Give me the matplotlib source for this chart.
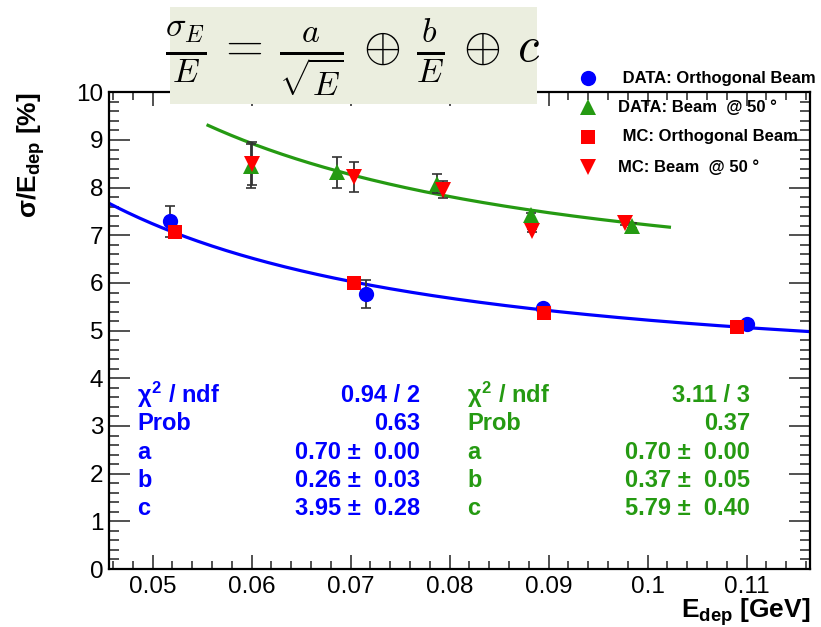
import numpy as np
import matplotlib
matplotlib.use("Agg")
import matplotlib.pyplot as plt
from matplotlib.patches import Rectangle
from matplotlib.lines import Line2D

plt.rcParams['font.family'] = ['Liberation Sans', 'DejaVu Sans']
plt.rcParams['mathtext.fontset'] = 'custom'
plt.rcParams['mathtext.rm'] = 'Liberation Sans:bold'
plt.rcParams['mathtext.it'] = 'Liberation Sans:bold'
plt.rcParams['mathtext.bf'] = 'Liberation Sans:bold'

# ---------------- data ----------------
data_orth_E = [0.0518, 0.0716, 0.0894, 0.1100]
data_orth_res = [7.29, 5.77, 5.48, 5.14]
data_orth_err = [0.33, 0.30, 0.06, 0.05]

mc_orth_E = [0.0523, 0.0703, 0.0895, 0.1090]
mc_orth_res = [7.07, 5.99, 5.37, 5.07]

data_50_E = [0.0599, 0.0686, 0.0787, 0.0882, 0.0984]
data_50_res = [8.45, 8.32, 8.08, 7.42, 7.20]
data_50_err = [0.46, 0.33, 0.20, 0.05, 0.05]

mc_50_E = [0.0600, 0.0703, 0.0793, 0.0883, 0.0977]
mc_50_res = [8.50, 8.22, 7.96, 7.10, 7.25]
mc_50_err = [0.45, 0.32, 0.18, 0.04, 0.04]

# fit parameters (a, b, c) and drawn ranges
fit_orth = (0.70, 0.26, 3.95)
fit_orth_range = (0.0456, 0.1164)
fit_50 = (0.70, 0.37, 5.79)
fit_50_range = (0.0556, 0.1022)

PM = "\u00b1"
stats_orth = [("$\\chi^{2}$ / ndf", "0.94 / 2"), ("Prob", "0.63"),
              ("a", f"0.70 {PM}  0.00"), ("b", f"0.26 {PM}  0.03"),
              ("c", f"3.95 {PM}  0.28")]
stats_50 = [("$\\chi^{2}$ / ndf", "3.11 / 3"), ("Prob", "0.37"),
            ("a", f"0.70 {PM}  0.00"), ("b", f"0.37 {PM}  0.05"),
            ("c", f"5.79 {PM}  0.40")]

legend_labels = [" DATA: Orthogonal Beam", "DATA: Beam  @ 50 \u00b0",
                 " MC: Orthogonal Beam", "MC: Beam  @ 50 \u00b0"]

BLUE = '#0000FF'
GREEN = '#259A12'
RED = '#FF0000'

W, H = 821, 627
fig = plt.figure(figsize=(W / 100, H / 100), dpi=100)

def fx(x):
    return x / W

def fy(y):
    return 1 - y / H

ax = fig.add_axes([fx(109), fy(569), fx(810) - fx(109), fy(92.3) - fy(569)])

def reso(E, p):
    a, b, c = p
    return np.sqrt((a / np.sqrt(E)) ** 2 + (b / E) ** 2 + c ** 2)

e1 = np.linspace(*fit_orth_range, 300)
ax.plot(e1, reso(e1, fit_orth), color=BLUE, lw=2.3, zorder=2)
e2 = np.linspace(*fit_50_range, 300)
ax.plot(e2, reso(e2, fit_50), color=GREEN, lw=2.3, zorder=2)

ekw = dict(fmt='none', ecolor='#333333', elinewidth=1.3, capsize=3.5, capthick=1.2, zorder=3)
ax.errorbar(data_orth_E, data_orth_res, yerr=data_orth_err, **ekw)
ax.errorbar(data_50_E, data_50_res, yerr=data_50_err, **ekw)
ax.errorbar(mc_50_E, mc_50_res, yerr=mc_50_err, **ekw)

h1, = ax.plot(data_orth_E, data_orth_res, 'o', color=BLUE, ms=11, mew=0, zorder=4)
h2, = ax.plot(data_50_E, data_50_res, '^', color=GREEN, ms=11, mew=0, zorder=4)
h3, = ax.plot(mc_orth_E, mc_orth_res, 's', color=RED, ms=10, mew=0, zorder=5)
h4, = ax.plot(mc_50_E, mc_50_res, 'v', color=RED, ms=11, mew=0, zorder=5)

ax.set_xlim(0.0456, 0.1164)
ax.set_ylim(0, 10)
ax.set_xticks(np.arange(0.05, 0.111, 0.01))
ax.set_xticklabels(['0.05', '0.06', '0.07', '0.08', '0.09', '0.1', '0.11'])
ax.set_xticks(np.arange(0.046, 0.1165, 0.002), minor=True)
ax.set_yticks(np.arange(0, 11, 1))
ax.set_yticks(np.arange(0, 10.01, 0.2), minor=True)
ax.tick_params(axis='both', which='both', direction='in', top=True, right=True,
               labelsize=17.5, width=1.1, color='#222222')
ax.tick_params(axis='x', which='major', length=10, pad=5)
ax.tick_params(axis='x', which='minor', length=5.5)
ax.tick_params(axis='y', which='major', length=15, pad=4)
ax.tick_params(axis='y', which='minor', length=7.5)
for s in ax.spines.values():
    s.set_linewidth(1.6)

# axis titles
fig.text(fx(810), fy(618), "E$_{dep}$ [GeV]", ha='right', va='baseline',
         fontsize=19, fontweight='bold')
fig.text(fx(31), fy(155), "\u03c3/E$_{dep}$ [%]", ha='center', va='center',
         rotation=90, fontsize=19, fontweight='bold')

# formula box
fig.patches.append(Rectangle((fx(170), fy(104)), fx(537) - fx(170), fy(7) - fy(104),
                             transform=fig.transFigure, facecolor='#EBEEDF',
                             edgecolor='none', zorder=5))
fig.text(fx(353), fy(57),
         r'$\frac{\sigma_E}{E} \,=\, \frac{a}{\sqrt{E}} \,\oplus\, \frac{b}{E} \,\oplus\, c$',
         ha='center', va='center', fontsize=35, math_fontfamily='cm', zorder=6)

# stats boxes
rows_y = [395, 424, 452.5, 480.5, 508.5]
for (lab, val), yy in zip(stats_orth, rows_y):
    fig.text(fx(137), fy(yy), lab, ha='left', va='center', fontsize=17,
             fontweight='bold', color=BLUE)
    fig.text(fx(420), fy(yy), val, ha='right', va='center', fontsize=17,
             fontweight='bold', color=BLUE)
for (lab, val), yy in zip(stats_50, rows_y):
    fig.text(fx(467), fy(yy), lab, ha='left', va='center', fontsize=17,
             fontweight='bold', color=GREEN)
    fig.text(fx(750), fy(yy), val, ha='right', va='center', fontsize=17,
             fontweight='bold', color=GREEN)

# legend
leg_y = [78, 107, 137, 167]
leg_tx = [618, 618, 618, 618]
handles = [h1, h2, h3, h4]
for h, lab, yy, tx in zip(handles, legend_labels, leg_y, leg_tx):
    m = Line2D([fx(588)], [fy(yy)], transform=fig.transFigure, marker=h.get_marker(),
               color=h.get_color(), ms=h.get_markersize(), mew=0, ls='none', zorder=7)
    fig.add_artist(m)
    fig.text(fx(tx), fy(yy), lab, ha='left', va='center', fontsize=12,
             fontweight='bold', zorder=7)

fig.savefig('out.png', dpi=100)
